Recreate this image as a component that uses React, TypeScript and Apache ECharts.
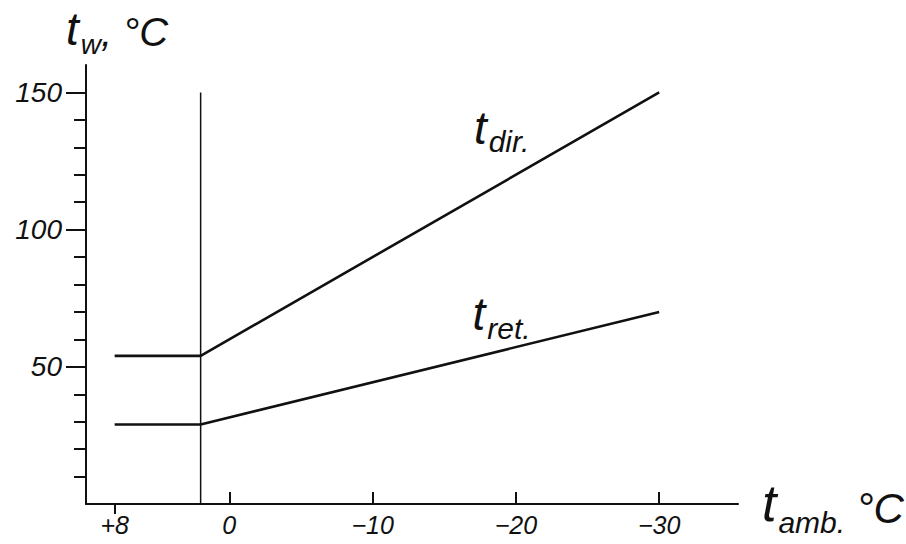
import React, { useEffect, useRef } from "react";
import * as echarts from "echarts";

const dirX = [8, 2, -30];
const dirY = [54, 54, 150];
const retX = [8, 2, -30];
const retY = [29, 29, 70];
const breakX = [2, 2];
const breakY = [0, 150];
const xTickValues = [0, -10, -20, -30];
const xOuterTickValues = [8];
const xLabelValues = [8, 0, -10, -20, -30];
const yMajorValues = [50, 100, 150];
const yMinorValues = [10, 20, 30, 40, 60, 70, 80, 90, 110, 120, 130, 140];
const dirLabelAt = [-19, 135];
const retLabelAt = [-19, 67];

const FONT = "Liberation Sans";
const INK = "#111";

function pairs(xs: number[], ys: number[]) {
  return xs.map((x, i) => [x, ys[i]]);
}

function rich(tSize: number, sSize: number, cSize: number, lift: number) {
  return {
    t: { fontFamily: FONT, fontStyle: "italic", fontSize: tSize, color: INK, verticalAlign: "bottom", lineHeight: tSize, padding: [0, 2, lift, 0] },
    s: { fontFamily: FONT, fontStyle: "italic", fontSize: sSize, color: INK, verticalAlign: "bottom", lineHeight: sSize },
    c: { fontFamily: FONT, fontStyle: "italic", fontSize: cSize, color: INK, verticalAlign: "bottom", lineHeight: cSize, padding: [0, 0, lift, 0] },
  };
}

export default function App() {
  const ref = useRef<HTMLDivElement>(null);
  useEffect(() => {
    if (!ref.current) return;
    const chart = echarts.init(ref.current, undefined, { renderer: "svg" });
    const lineLabel = (text: string, at: number[]) => ({
      symbol: "circle",
      symbolSize: 1,
      itemStyle: { color: "rgba(0,0,0,0)" },
      data: [{ coord: at }],
      label: { show: true, position: "inside", formatter: text, rich: rich(46, 30, 30, 6) },
    });
    const fmtX = (v: number) => (v > 0 ? "+" + v : v < 0 ? "\u2212" + Math.abs(v) : "0");
    chart.setOption({
      animation: false,
      backgroundColor: "#fff",
      grid: { left: 86, right: 168, top: 65, bottom: 40, containLabel: false, outerBoundsMode: "none" },
      xAxis: [
        {
          type: "value",
          inverse: true,
          min: -35.5,
          max: 10,
          position: "bottom",
          axisLine: { show: true, onZero: false, lineStyle: { color: INK, width: 2 } },
          axisTick: { show: true, inside: true, length: 12, customValues: xTickValues, lineStyle: { color: INK, width: 2 } },
          axisLabel: {
            show: true,
            customValues: xLabelValues,
            formatter: fmtX,
            margin: 8,
            fontFamily: FONT,
            fontStyle: "italic",
            fontSize: 25,
            color: INK,
          },
          splitLine: { show: false },
          name: "{t|t}{s|amb.}{c| °C}",
          nameLocation: "start",
          nameGap: 24,
          nameTextStyle: { rich: rich(52, 30, 42, 8), align: "left", verticalAlign: "middle", padding: [0, 0, -14, 0] },
        },
        {
          type: "value",
          inverse: true,
          min: -35.5,
          max: 10,
          position: "bottom",
          offset: 0,
          axisLine: { show: false, onZero: false },
          axisTick: { show: true, inside: false, length: 10, customValues: xOuterTickValues, lineStyle: { color: INK, width: 2 } },
          axisLabel: { show: false },
          splitLine: { show: false },
        },
      ],
      yAxis: [
        {
          type: "value",
          min: 0,
          max: 160,
          position: "left",
          axisLine: { show: true, onZero: false, lineStyle: { color: INK, width: 2 } },
          axisTick: { show: true, inside: false, length: 20, customValues: yMajorValues, lineStyle: { color: INK, width: 2 } },
          axisLabel: {
            show: true,
            customValues: yMajorValues,
            margin: 24,
            fontFamily: FONT,
            fontStyle: "italic",
            fontSize: 28,
            color: INK,
          },
          splitLine: { show: false },
          name: "{t|t}{s|w}{c|, °C}",
          nameLocation: "end",
          nameGap: 7,
          nameTextStyle: { rich: rich(46, 28, 40, 6), align: "left", verticalAlign: "bottom", padding: [0, 0, 0, -20] },
        },
        {
          type: "value",
          min: 0,
          max: 160,
          position: "left",
          offset: 0,
          axisLine: { show: false, onZero: false },
          axisTick: { show: true, inside: false, length: 12, customValues: yMinorValues, lineStyle: { color: INK, width: 2 } },
          axisLabel: { show: false },
          splitLine: { show: false },
        },
      ],
      series: [
        {
          name: "t_dir",
          type: "line",
          data: pairs(dirX, dirY),
          symbol: "none",
          lineStyle: { color: INK, width: 2.6 },
          markPoint: lineLabel("{t|t}{s|dir.}", dirLabelAt),
        },
        {
          name: "t_ret",
          type: "line",
          data: pairs(retX, retY),
          symbol: "none",
          lineStyle: { color: INK, width: 2.6 },
          markPoint: lineLabel("{t|t}{s|ret.}", retLabelAt),
        },
        {
          name: "break",
          type: "line",
          data: pairs(breakX, breakY),
          symbol: "none",
          lineStyle: { color: INK, width: 1.5 },
        },
      ],
    });
    return () => chart.dispose();
  }, []);
  return <div ref={ref} style={{ position: "absolute", left: 0, top: 0, width: 906, height: 544 }} />;
}
